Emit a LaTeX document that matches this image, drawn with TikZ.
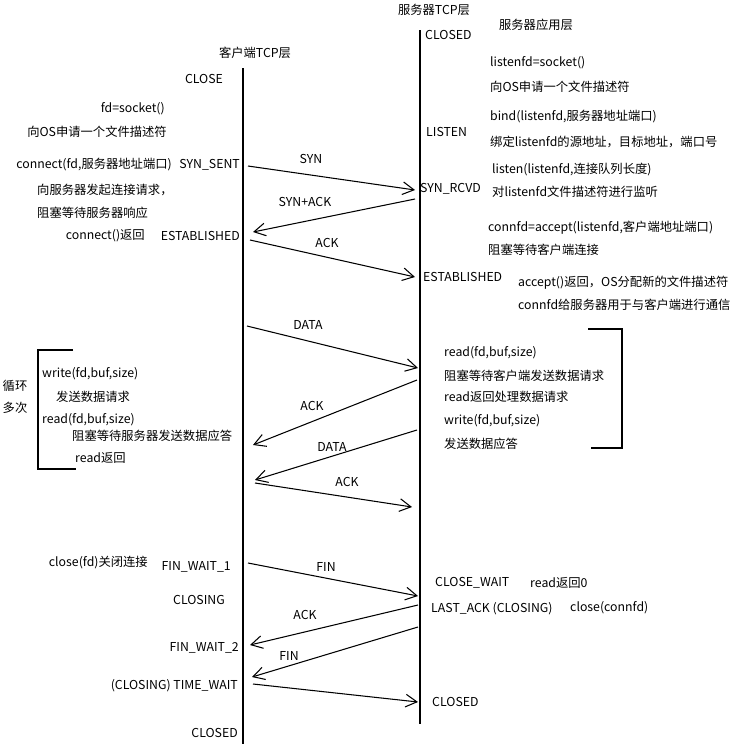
\documentclass[tikz,border=0pt]{standalone}
\usepackage{fontspec}
\setmainfont{Noto Sans CJK SC}
\usetikzlibrary{arrows.meta, positioning}

\begin{document}
\begin{tikzpicture}[x=0.03cm, y=-0.03cm,
    life/.style={line width=1.1pt},
    msg/.style={line width=0.9pt, -{Straight Barb[length=3.4mm, width=3.8mm]}},
    txt/.style={inner sep=0pt, font=\fontsize{10.5}{12}\selectfont},
    brk/.style={line width=1pt}]
    \useasboundingbox (0,0) rectangle (740,744);

    % 1. Hai đường thời gian
    \coordinate (ctop) at (243,68);
    \coordinate (cbot) at (243,744);
    \coordinate (stop) at (420,30);
    \coordinate (sbot) at (420,724);
    \draw[life] (ctop) -- (cbot);
    \draw[life] (stop) -- (sbot);

    % 2. Tiêu đề các tầng
    \node[txt] (clayer) at (255,53) {客户端TCP层};
    \node[txt] (slayer) at (434,10) {服务器TCP层};
    \node[txt] (applayer) at (536,25) {服务器应用层};

    % 3. Trạng thái phía client
    \node[txt] (cclose) at (204,79) {CLOSE};
    \node[txt, anchor=east] (csent) at (240,165) {SYN\_SENT};
    \node[txt, anchor=east] (cest) at (240,236) {ESTABLISHED};
    \node[txt, anchor=east] (cfin1) at (231,567) {FIN\_WAIT\_1};
    \node[txt, anchor=east] (cclosing) at (225,600) {CLOSING};
    \node[txt, anchor=east] (cfin2) at (239,648) {FIN\_WAIT\_2};
    \node[txt, anchor=east] (ctime) at (238,686) {(CLOSING) TIME\_WAIT};
    \node[txt, anchor=east] (cclosed) at (238,733) {CLOSED};

    % 4. Lời gọi phía client
    \node[txt, anchor=east] (csock) at (165,109) {fd=socket()};
    \node[txt, anchor=east] (csockd) at (167,132) {向OS申请一个文件描述符};
    \node[txt, anchor=east] (cconn) at (172,165) {connect(fd,服务器地址端口)};
    \node[txt, anchor=west] (cconnd) at (37,190) {向服务器发起连接请求，};
    \node[txt, anchor=west] (cwait) at (37,213) {阻塞等待服务器响应};
    \node[txt, anchor=east] (cret) at (145,236) {connect()返回};
    \node[txt, anchor=west] (cwrite) at (42,374) {write(fd,buf,size)};
    \node[txt, anchor=west] (cwrited) at (56,397) {发送数据请求};
    \node[txt, anchor=west] (cread) at (42,420) {read(fd,buf,size)};
    \node[txt, anchor=west] (creadd) at (72,436) {阻塞等待服务器发送数据应答};
    \node[txt, anchor=west] (creadr) at (75,458) {read返回};
    \node[txt] (loop1) at (15,386) {循环};
    \node[txt] (loop2) at (15,408) {多次};
    \node[txt, anchor=east] (cclosefd) at (148,563) {close(fd)关闭连接};
    \draw[brk] (73,350) -- (38,350) -- (38,469) -- (76,469);

    % 5. Trạng thái phía server
    \node[txt, anchor=west] (sclosed) at (425,35) {CLOSED};
    \node[txt, anchor=west] (slisten) at (426,132) {LISTEN};
    \node[txt, anchor=west] (srcvd) at (420,189) {SYN\_RCVD};
    \node[txt, anchor=west] (sest) at (423,277) {ESTABLISHED};
    \node[txt, anchor=west] (scwait) at (435,583) {CLOSE\_WAIT};
    \node[txt, anchor=west] (slast) at (431,609) {LAST\_ACK (CLOSING)};
    \node[txt, anchor=west] (sclosed2) at (432,702) {CLOSED};

    % 6. Lời gọi phía server
    \node[txt, anchor=west] (ssock) at (490,63) {listenfd=socket()};
    \node[txt, anchor=west] (ssockd) at (490,87) {向OS申请一个文件描述符};
    \node[txt, anchor=west] (sbind) at (490,117) {bind(listenfd,服务器地址端口)};
    \node[txt, anchor=west] (sbindd) at (490,142) {绑定listenfd的源地址，目标地址，端口号};
    \node[txt, anchor=west] (slst) at (492,170) {listen(listenfd,连接队列长度)};
    \node[txt, anchor=west] (slstd) at (492,192) {对listenfd文件描述符进行监听};
    \node[txt, anchor=west] (sacc) at (488,228) {connfd=accept(listenfd,客户端地址端口)};
    \node[txt, anchor=west] (saccw) at (488,250) {阻塞等待客户端连接};
    \node[txt, anchor=west] (saccr) at (518,283) {accept()返回，OS分配新的文件描述符};
    \node[txt, anchor=west] (saccd) at (518,305) {connfd给服务器用于与客户端进行通信};
    \node[txt, anchor=west] (sread) at (444,353) {read(fd,buf,size)};
    \node[txt, anchor=west] (sreadw) at (444,376) {阻塞等待客户端发送数据请求};
    \node[txt, anchor=west] (sreadr) at (444,397) {read返回处理数据请求};
    \node[txt, anchor=west] (swrite) at (444,421) {write(fd,buf,size)};
    \node[txt, anchor=west] (swrited) at (444,444) {发送数据应答};
    \node[txt, anchor=west] (sret0) at (530,583) {read返回0};
    \node[txt, anchor=west] (sclose) at (570,608) {close(connfd)};
    \draw[brk] (588,329) -- (622,329) -- (622,448) -- (591,448);

    % 7. Các gói tin
    \coordinate (c1) at (248,166); \coordinate (s1) at (415,190);
    \draw[msg] (c1) -- (s1);
    \node[txt] (m1) at (311,159) {SYN};
    \coordinate (s2) at (415,199); \coordinate (c2) at (253,232);
    \draw[msg] (s2) -- (c2);
    \node[txt] (m2) at (305,202) {SYN+ACK};
    \coordinate (c3) at (250,240); \coordinate (s3) at (415,277);
    \draw[msg] (c3) -- (s3);
    \node[txt] (m3) at (327,243) {ACK};
    \coordinate (c4) at (247,326); \coordinate (s4) at (418,368);
    \draw[msg] (c4) -- (s4);
    \node[txt] (m4) at (308,325) {DATA};
    \coordinate (s5) at (417,380); \coordinate (c5) at (253,445);
    \draw[msg] (s5) -- (c5);
    \node[txt] (m5) at (312,406) {ACK};
    \coordinate (s6) at (417,430); \coordinate (c6) at (255,480);
    \draw[msg] (s6) -- (c6);
    \node[txt] (m6) at (332,447) {DATA};
    \coordinate (c7) at (255,483); \coordinate (s7) at (412,507);
    \draw[msg] (c7) -- (s7);
    \node[txt] (m7) at (347,482) {ACK};
    \coordinate (c8) at (248,563); \coordinate (s8) at (418,596);
    \draw[msg] (c8) -- (s8);
    \node[txt] (m8) at (326,567) {FIN};
    \coordinate (s9) at (418,605); \coordinate (c9) at (250,645);
    \draw[msg] (s9) -- (c9);
    \node[txt] (m9) at (305,615) {ACK};
    \coordinate (s10) at (418,627); \coordinate (c10) at (252,677);
    \draw[msg] (s10) -- (c10);
    \node[txt] (m10) at (289,656) {FIN};
    \coordinate (c11) at (253,684); \coordinate (s11) at (418,702);
    \draw[msg] (c11) -- (s11);
\end{tikzpicture}
\end{document}
